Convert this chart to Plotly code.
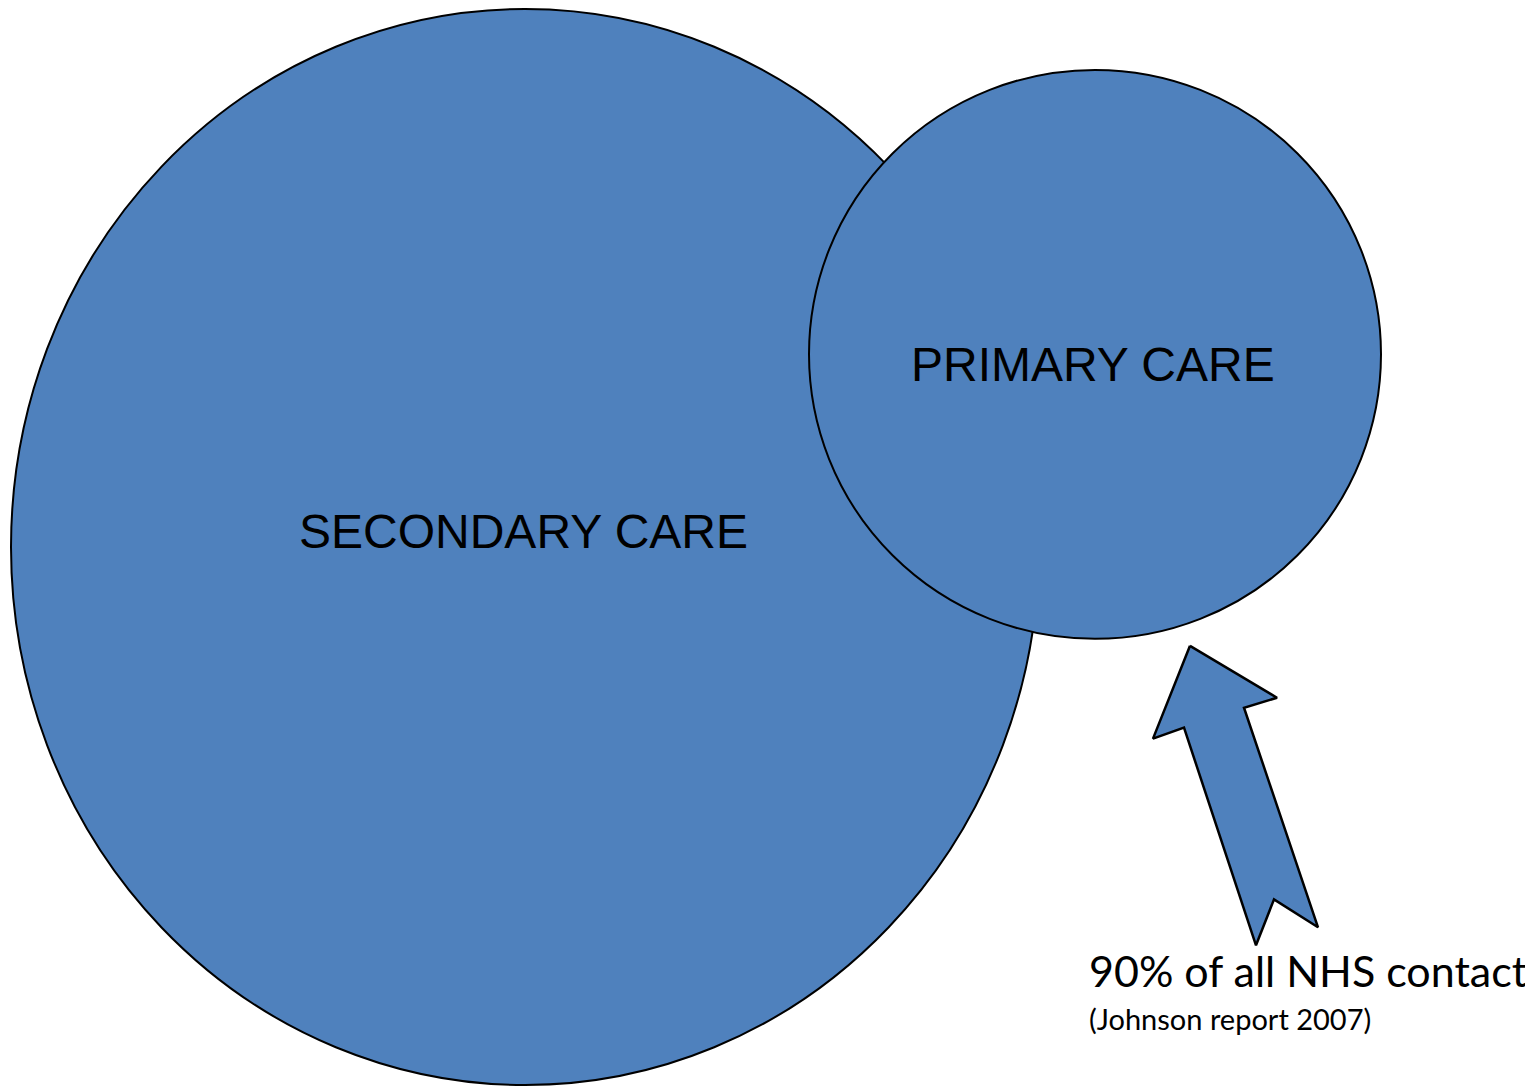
import plotly.graph_objects as go

# ---- data (diagram geometry in canvas pixel units) ----
circle_labels = ["SECONDARY CARE", "PRIMARY CARE"]
circle_cx = [525, 1095]
circle_cy = [546, 353]
circle_rx = [514, 286]
circle_ry = [539, 285]
label_y = [530, 363]
label_x = [523, 1093]

arrow_x = [1190, 1277, 1244, 1318, 1274, 1256, 1184, 1153, 1190]
arrow_y = [645, 697, 707, 927, 899, 945, 727, 738, 645]

note_lines = ["90% of all NHS contact", "(Johnson report 2007)"]
note_x = 1087
note_y = [970, 1018]

W, H = 1533, 1087
OFF = 8  # compensates the page's default body margin
FILL = "#4F81BD"

fig = go.Figure()

shapes = []
for cx, cy, rx, ry in zip(circle_cx, circle_cy, circle_rx, circle_ry):
    shapes.append(dict(type="circle", xref="x", yref="y",
                       x0=cx - rx, x1=cx + rx, y0=cy - ry, y1=cy + ry,
                       fillcolor=FILL, line=dict(color="black", width=2),
                       layer="below"))

fig.add_trace(go.Scatter(x=arrow_x, y=arrow_y, mode="lines", fill="toself",
                         fillcolor=FILL, line=dict(color="black", width=2.5),
                         hoverinfo="skip", showlegend=False))

annotations = []
for lab, lx, ly in zip(circle_labels, label_x, label_y):
    annotations.append(dict(x=lx, y=ly, xref="x", yref="y", text=lab,
                            showarrow=False, xanchor="center", yanchor="middle",
                            font=dict(family="Liberation Sans, Arial", size=48, color="black")))
annotations.append(dict(x=note_x, y=note_y[0], xref="x", yref="y", text=note_lines[0],
                        showarrow=False, xanchor="left", yanchor="middle",
                        font=dict(family="Lato, Open Sans", size=43, color="black")))
annotations.append(dict(x=note_x, y=note_y[1], xref="x", yref="y", text=note_lines[1],
                        showarrow=False, xanchor="left", yanchor="middle",
                        font=dict(family="Lato, Open Sans", size=29, color="black")))

fig.update_layout(
    width=W, height=H,
    margin=dict(l=0, r=0, t=0, b=0),
    paper_bgcolor="white", plot_bgcolor="white",
    shapes=shapes, annotations=annotations,
    xaxis=dict(range=[OFF, W + OFF], visible=False, fixedrange=True),
    yaxis=dict(range=[H + OFF, OFF - 2], visible=False, fixedrange=True),
)

fig.write_html("out.html", config={"displayModeBar": False})
